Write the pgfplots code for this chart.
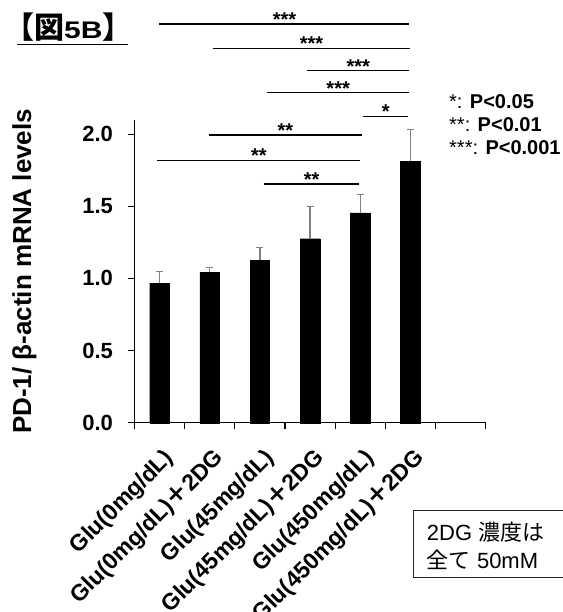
\documentclass[border=0pt]{standalone}
\usepackage{pgfplots}
\usepackage{pgfplotstable}
\pgfplotsset{compat=1.18}
\usepackage{fontspec}
\setmainfont{Liberation Sans}
\newfontfamily\cjk{Noto Sans CJK JP}
\newfontfamily\widesans{Liberation Sans}[FakeStretch=1.25]

\pgfplotstableread{
x y e
0 0.966 0.080
1 1.044 0.033
2 1.127 0.086
3 1.275 0.222
4 1.455 0.128
5 1.811 0.222
}\bardata

\begin{document}
\begin{tikzpicture}
\begin{axis}[
  at={(134.4pt,-422.7pt)}, anchor=south west,
  scale only axis, width=351.3pt, height=302.7pt,
  xmin=-0.5, xmax=6.5, ymin=0, ymax=2.098,
  clip=false,
  axis lines=left,
  axis line style={-, line width=1.2pt, black},
  tick align=outside,
  major tick length=6pt,
  tick style={black, line width=1.2pt},
  xtick={-0.5,0.5,1.5,2.5,3.5,4.5,5.5,6.5},
  xticklabels={},
  extra x ticks={0,1,2,3,4,5},
  extra x tick labels={Glu(0mg/dL),Glu(0mg/dL){\cjk ＋}2DG,Glu(45mg/dL),Glu(45mg/dL){\cjk ＋}2DG,Glu(450mg/dL),Glu(450mg/dL){\cjk ＋}2DG},
  extra x tick style={major tick length=0pt},
  xticklabel style={xshift=3pt, yshift=-24pt, rotate=45, anchor=north east, inner sep=0pt, font=\bfseries\fontsize{23}{26}\selectfont},
  ytick={0,0.5,1,1.5,2},
  yticklabel style={xshift=-12pt, font=\bfseries\fontsize{22}{24}\selectfont, /pgf/number format/.cd, fixed, fixed zerofill, precision=1, assume math mode=true},
  ylabel={PD-1/ β-actin mRNA levels},
  every axis y label/.style={at={(axis description cs:-0.313,0.5)}, anchor=center, rotate=90, font=\bfseries\fontsize{26}{28}\selectfont},
]
\addplot[ybar, bar width=19.5pt, fill=black, draw=black,
  error bars/.cd, y dir=plus, y explicit,
  error bar style={color=gray, line width=1.3pt},
  error mark options={rotate=90, mark size=3.5pt, line width=1.3pt, gray}]
  table[x=x, y=y, y error=e]{\bardata};

% significance lines
\addplot[black, line width=1.2pt, forget plot] coordinates {(0,2.763) (4.98,2.763)};
\addplot[black, line width=1.2pt, forget plot] coordinates {(1.06,2.595) (4.99,2.595)};
\addplot[black, line width=1.2pt, forget plot] coordinates {(2.93,2.439) (4.98,2.439)};
\addplot[black, line width=1.2pt, forget plot] coordinates {(2.14,2.287) (4.98,2.287)};
\addplot[black, line width=1.2pt, forget plot] coordinates {(4.06,2.125) (4.96,2.125)};
\addplot[black, line width=1.2pt, forget plot] coordinates {(0.99,1.994) (4.03,1.994)};
\addplot[black, line width=1.2pt, forget plot] coordinates {(-0.04,1.818) (3.99,1.818)};
\addplot[black, line width=1.2pt, forget plot] coordinates {(2.08,1.654) (3.97,1.654)};

\begin{scope}[every node/.style={anchor=base, inner sep=0pt, yshift=-2.5pt, font=\bfseries\fontsize{20}{20}\selectfont}]
\node at (axis cs:2.49,2.763) {***};
\node at (axis cs:3.03,2.595) {***};
\node at (axis cs:3.96,2.439) {***};
\node at (axis cs:3.56,2.287) {***};
\node at (axis cs:4.51,2.125) {*};
\node at (axis cs:2.51,1.994) {**};
\node at (axis cs:1.98,1.818) {**};
\node at (axis cs:3.03,1.654) {**};
\end{scope}
\end{axis}

% title
\node[anchor=base west, inner sep=0pt] at (4pt,-38.3pt)
  {{\cjk\bfseries\fontsize{30}{30}\selectfont 【図}{\widesans\bfseries\fontsize{24}{24}\selectfont 5B}{\cjk\bfseries\fontsize{30}{30}\selectfont 】}};
\draw[line width=1.5pt] (17pt,-44.3pt) -- (128pt,-44.3pt);

% p-value legend
\node[anchor=base west, inner sep=0pt, font=\fontsize{20}{20}\selectfont] at (449pt,-108.3pt) {*: \textbf{P<0.05}};
\node[anchor=base west, inner sep=0pt, font=\fontsize{20}{20}\selectfont] at (449pt,-131.7pt) {**: \textbf{P<0.01}};
\node[anchor=base west, inner sep=0pt, font=\fontsize{20}{20}\selectfont] at (449pt,-155pt) {***: \textbf{P<0.001}};

% note box
\draw[line width=1pt, black!85] (413.3pt,-510pt) rectangle (575pt,-577pt);
\node[anchor=base west, inner sep=0pt, font=\fontsize{22}{22}\selectfont] at (426.7pt,-540pt) {2DG {\cjk 濃度は}};
\node[anchor=base west, inner sep=0pt, font=\fontsize{22}{22}\selectfont] at (426.7pt,-568.3pt) {{\cjk 全て} 50mM};

\pgfresetboundingbox
\useasboundingbox (0pt,0pt) rectangle (562pt,-612pt);
\end{tikzpicture}
\end{document}
